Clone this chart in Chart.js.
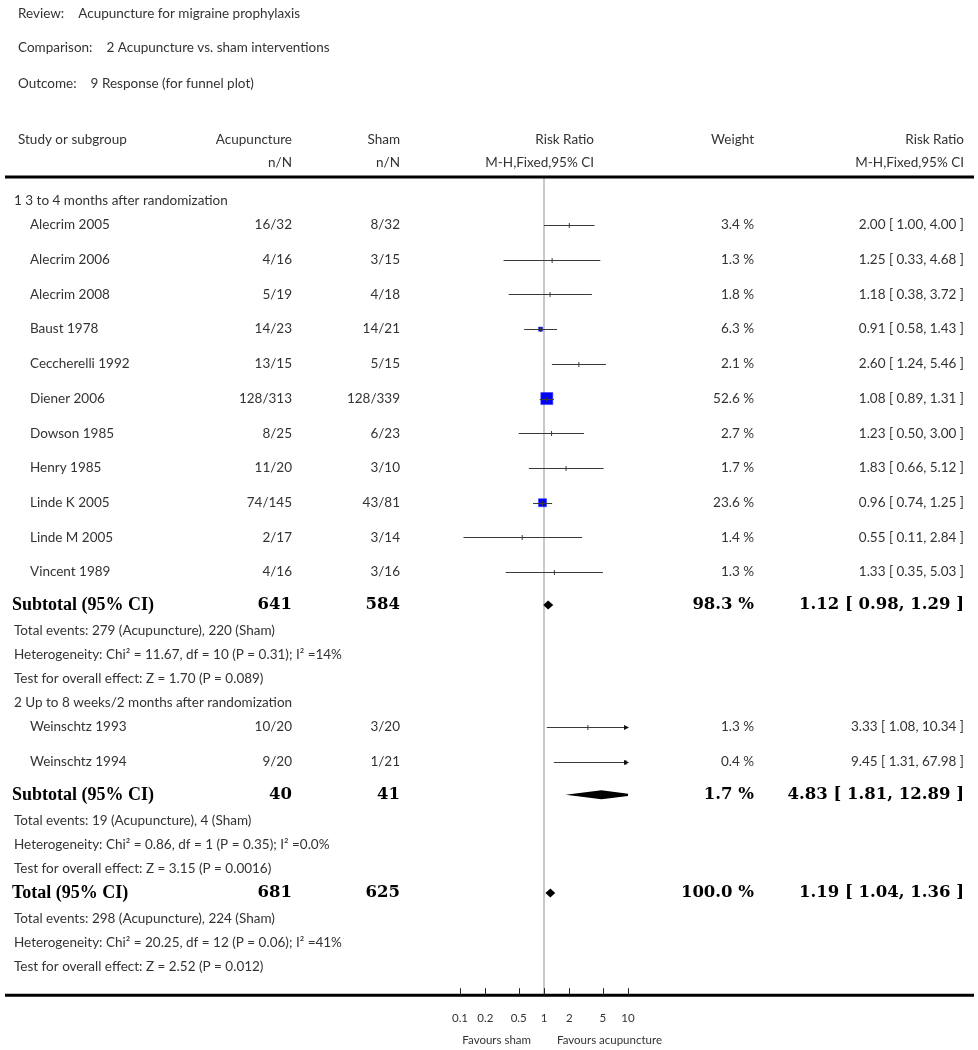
<!DOCTYPE html>
<html>
<head>
<meta charset="utf-8">
<title>Acupuncture vs sham - forest plot</title>
<script src="https://cdn.jsdelivr.net/npm/chart.js@4.4.0/dist/chart.umd.min.js"></script>
<style>
  html, body { margin: 0; padding: 0; background: #fff; }
  canvas { display: block; }
</style>
</head>
<body>
<canvas id="forest" width="978" height="1050"></canvas>
<script>
// Forest plot: Acupuncture vs. sham interventions, outcome 9 (Response)

// ---- data ----
const studies = ['Alecrim 2005', 'Alecrim 2006', 'Alecrim 2008', 'Baust 1978', 'Ceccherelli 1992',
  'Diener 2006', 'Dowson 1985', 'Henry 1985', 'Linde K 2005', 'Linde M 2005', 'Vincent 1989',
  'Weinschtz 1993', 'Weinschtz 1994'];
const studyGroup = [0, 0, 0, 0, 0, 0, 0, 0, 0, 0, 0, 1, 1];
const acuEvents = ['16/32', '4/16', '5/19', '14/23', '13/15', '128/313', '8/25', '11/20', '74/145', '2/17', '4/16', '10/20', '9/20'];
const shamEvents = ['8/32', '3/15', '4/18', '14/21', '5/15', '128/339', '6/23', '3/10', '43/81', '3/14', '3/16', '3/20', '1/21'];
const weights = [3.4, 1.3, 1.8, 6.3, 2.1, 52.6, 2.7, 1.7, 23.6, 1.4, 1.3, 1.3, 0.4];
const riskRatio = [2.00, 1.25, 1.18, 0.91, 2.60, 1.08, 1.23, 1.83, 0.96, 0.55, 1.33, 3.33, 9.45];
const ciLow = [1.00, 0.33, 0.38, 0.58, 1.24, 0.89, 0.50, 0.66, 0.74, 0.11, 0.35, 1.08, 1.31];
const ciHigh = [4.00, 4.68, 3.72, 1.43, 5.46, 1.31, 3.00, 5.12, 1.25, 2.84, 5.03, 10.34, 67.98];

const groupTitles = ['1 3 to 4 months after randomization', '2 Up to 8 weeks/2 months after randomization'];

// subtotal 1, subtotal 2, overall total
const summaryLabels = ['Subtotal (95% CI)', 'Subtotal (95% CI)', 'Total (95% CI)'];
const summaryAcuN = [641, 40, 681];
const summaryShamN = [584, 41, 625];
const summaryWeight = [98.3, 1.7, 100.0];
const summaryRR = [1.12, 4.83, 1.19];
const summaryLow = [0.98, 1.81, 1.04];
const summaryHigh = [1.29, 12.89, 1.36];
const summaryEvents = ['Total events: 279 (Acupuncture), 220 (Sham)',
  'Total events: 19 (Acupuncture), 4 (Sham)',
  'Total events: 298 (Acupuncture), 224 (Sham)'];
const summaryHet = ['Heterogeneity: Chi\u00b2 = 11.67, df = 10 (P = 0.31); I\u00b2 =14%',
  'Heterogeneity: Chi\u00b2 = 0.86, df = 1 (P = 0.35); I\u00b2 =0.0%',
  'Heterogeneity: Chi\u00b2 = 20.25, df = 12 (P = 0.06); I\u00b2 =41%'];
const summaryTest = ['Test for overall effect: Z = 1.70 (P = 0.089)',
  'Test for overall effect: Z = 3.15 (P = 0.0016)',
  'Test for overall effect: Z = 2.52 (P = 0.012)'];

const axisTicks = [0.1, 0.2, 0.5, 1, 2, 5, 10];
const axisTickLabels = ['0.1', '0.2', '0.5', '1', '2', '5', '10'];

// ---- row layout (vertical order of the table) ----
const SANS = 'Lato, "Open Sans", sans-serif';
const SERIF = '"Liberation Serif", "DejaVu Serif", serif';
const NUM_SERIF = '"DejaVu Serif", "Liberation Serif", serif';
const GAPS = {
  'none-group': 24, 'group-study': 24, 'study-study': 34.7, 'study-summary': 33,
  'summary-text': 26, 'text-text': 24, 'text-group': 24, 'text-summary': 24
};
const rows = [];
let cursor = 0, prevKind = 'none';
function addRow(kind, ref, text) {
  cursor += GAPS[prevKind + '-' + kind] || 24;
  rows.push({kind: kind, ref: ref, text: text, y: cursor});
  prevKind = kind;
}
function addSummary(k) {
  addRow('summary', k);
  addRow('text', k, summaryEvents[k]);
  addRow('text', k, summaryHet[k]);
  addRow('text', k, summaryTest[k]);
}
groupTitles.forEach(function(title, g) {
  addRow('group', g, title);
  studies.forEach(function(s, i) { if (studyGroup[i] === g) addRow('study', i); });
  addSummary(g);
});
addSummary(2);

const studyY = studies.map(function(s, i) {
  return rows.find(function(r) { return r.kind === 'study' && r.ref === i; }).y;
});
const Y_MAX = 818;

// ---- drawing helpers ----
function txt(ctx, s, x, y, align, font, color) {
  ctx.font = font;
  ctx.fillStyle = color || '#333';
  ctx.textAlign = align;
  ctx.textBaseline = 'middle';
  ctx.fillText(s, x, y);
}
function rrText(v, lo, hi) {
  return v.toFixed(2) + ' [ ' + lo.toFixed(2) + ', ' + hi.toFixed(2) + ' ]';
}

const COL = {name: 30, left: 14, acu: 292, sham: 400, rrHead: 594, weight: 754, rr: 964};

const forestPlugin = {
  id: 'forest',
  beforeDatasetsDraw(chart) {
    const {ctx, chartArea, scales} = chart;
    const x1 = scales.x.getPixelForValue(1);
    ctx.save();
    ctx.strokeStyle = '#c8c8c8';
    ctx.lineWidth = 2;
    ctx.beginPath();
    ctx.moveTo(x1, chartArea.top);
    ctx.lineTo(x1, chartArea.bottom);
    ctx.stroke();
    ctx.restore();
  },
  afterDatasetsDraw(chart) {
    const {ctx, chartArea, scales} = chart;
    const xs = scales.x, ys = scales.y;
    const xmin = xs.min, xmax = xs.max;
    ctx.save();
    // confidence intervals
    studies.forEach(function(s, i) {
      const py = Math.round(ys.getPixelForValue(studyY[i])) + 0.5;
      const a = xs.getPixelForValue(Math.max(ciLow[i], xmin));
      const b = xs.getPixelForValue(Math.min(ciHigh[i], xmax));
      ctx.strokeStyle = '#3a3a3a';
      ctx.lineWidth = 1;
      ctx.beginPath();
      ctx.moveTo(a, py);
      ctx.lineTo(b, py);
      ctx.stroke();
      // point estimate tick
      const pe = xs.getPixelForValue(riskRatio[i]);
      ctx.beginPath();
      ctx.moveTo(pe, py - 2.5);
      ctx.lineTo(pe, py + 2.5);
      ctx.stroke();
      if (ciHigh[i] > xmax) {
        ctx.fillStyle = '#111';
        ctx.beginPath();
        ctx.moveTo(b + 1, py);
        ctx.lineTo(b - 4, py - 2.5);
        ctx.lineTo(b - 4, py + 2.5);
        ctx.closePath();
        ctx.fill();
      }
    });
    // summary diamonds
    ctx.beginPath();
    ctx.rect(chartArea.left, chartArea.top, chartArea.right - chartArea.left, chartArea.bottom - chartArea.top);
    ctx.clip();
    rows.filter(function(r) { return r.kind === 'summary'; }).forEach(function(r) {
      const k = r.ref;
      const py = ys.getPixelForValue(r.y);
      const a = xs.getPixelForValue(summaryLow[k]);
      const m = xs.getPixelForValue(summaryRR[k]);
      const b = xs.getPixelForValue(summaryHigh[k]);
      ctx.fillStyle = '#000';
      ctx.beginPath();
      ctx.moveTo(a, py);
      ctx.lineTo(m, py - 4.5);
      ctx.lineTo(b, py);
      ctx.lineTo(m, py + 4.5);
      ctx.closePath();
      ctx.fill();
    });
    ctx.restore();
  },
  afterDraw(chart) {
    const {ctx, chartArea, scales} = chart;
    const ys = scales.y, xs = scales.x;
    const top = chartArea.top, bottom = chartArea.bottom;
    ctx.save();

    // title block
    const small = '13.5px ' + SANS;
    [['Review:', 'Acupuncture for migraine prophylaxis', 14],
     ['Comparison:', '2 Acupuncture vs. sham interventions', 48],
     ['Outcome:', '9 Response (for funnel plot)', 84]].forEach(function(t) {
      txt(ctx, t[0], 18, t[2], 'left', small);
      const w = ctx.measureText(t[0]).width;
      txt(ctx, t[1], 18 + w + 14, t[2], 'left', small);
    });

    // column headers
    const h1 = top - 37, h2 = top - 14;
    txt(ctx, 'Study or subgroup', 18, h1, 'left', small);
    txt(ctx, 'Acupuncture', COL.acu, h1, 'right', small);
    txt(ctx, 'Sham', COL.sham, h1, 'right', small);
    txt(ctx, 'Risk Ratio', COL.rrHead, h1, 'right', small);
    txt(ctx, 'Weight', COL.weight, h1, 'right', small);
    txt(ctx, 'Risk Ratio', COL.rr, h1, 'right', small);
    txt(ctx, 'n/N', COL.acu, h2, 'right', small);
    txt(ctx, 'n/N', COL.sham, h2, 'right', small);
    txt(ctx, 'M-H,Fixed,95% CI', COL.rrHead, h2, 'right', small);
    txt(ctx, 'M-H,Fixed,95% CI', COL.rr, h2, 'right', small);

    // thick rules
    ctx.strokeStyle = '#000';
    ctx.lineWidth = 3;
    ctx.beginPath();
    ctx.moveTo(5, top); ctx.lineTo(974, top);
    ctx.moveTo(5, bottom); ctx.lineTo(974, bottom);
    ctx.stroke();

    // axis tick marks
    ctx.lineWidth = 1;
    ctx.strokeStyle = '#222';
    axisTicks.forEach(function(v) {
      const px = Math.round(xs.getPixelForValue(v)) + 0.5;
      ctx.beginPath();
      ctx.moveTo(px, bottom - 7);
      ctx.lineTo(px, bottom);
      ctx.stroke();
    });
    const x1 = xs.getPixelForValue(1);
    txt(ctx, 'Favours sham', x1 - 13, bottom + 45, 'right', '11.5px ' + SANS);
    txt(ctx, 'Favours acupuncture', x1 + 13, bottom + 45, 'left', '11.5px ' + SANS);

    // table rows
    const bold = 'bold 18px ' + SERIF;
    const boldNum = 'bold 16.5px ' + NUM_SERIF;
    rows.forEach(function(r) {
      const py = ys.getPixelForValue(r.y);
      if (r.kind === 'group' || r.kind === 'text') {
        txt(ctx, r.text, COL.left, py, 'left', small);
      } else if (r.kind === 'study') {
        const i = r.ref;
        txt(ctx, studies[i], COL.name, py, 'left', small);
        txt(ctx, acuEvents[i], COL.acu, py, 'right', small);
        txt(ctx, shamEvents[i], COL.sham, py, 'right', small);
        txt(ctx, weights[i].toFixed(1) + ' %', COL.weight, py, 'right', small);
        txt(ctx, rrText(riskRatio[i], ciLow[i], ciHigh[i]), COL.rr, py, 'right', small);
      } else if (r.kind === 'summary') {
        const k = r.ref;
        txt(ctx, summaryLabels[k], COL.left - 2, py, 'left', bold, '#000');
        txt(ctx, String(summaryAcuN[k]), COL.acu, py, 'right', boldNum, '#000');
        txt(ctx, String(summaryShamN[k]), COL.sham, py, 'right', boldNum, '#000');
        txt(ctx, summaryWeight[k].toFixed(1) + ' %', COL.weight, py, 'right', boldNum, '#000');
        txt(ctx, rrText(summaryRR[k], summaryLow[k], summaryHigh[k]), COL.rr, py, 'right', boldNum, '#000');
      }
    });
    ctx.restore();
  }
};

const squareRadius = weights.map(function(w) {
  const r = 8.5 * Math.sqrt(w / 52.6);
  return r < 2.5 ? 0 : r;
});

new Chart(document.getElementById('forest'), {
  type: 'scatter',
  data: {
    datasets: [{
      label: 'Study estimate',
      data: studies.map(function(s, i) { return {x: riskRatio[i], y: studyY[i]}; }),
      pointStyle: 'rect',
      pointRadius: squareRadius,
      pointHoverRadius: squareRadius,
      backgroundColor: '#0000ff',
      borderColor: '#2a2aff',
      borderWidth: 0.5
    }]
  },
  options: {
    responsive: false,
    animation: false,
    events: [],
    layout: {padding: {top: 177, left: 460, right: 350, bottom: 9}},
    plugins: {legend: {display: false}, tooltip: {enabled: false}},
    scales: {
      x: {
        type: 'logarithmic',
        min: 0.1,
        max: 10,
        grid: {display: false, drawTicks: false},
        border: {display: false},
        afterBuildTicks: function(scale) {
          scale.ticks = axisTicks.map(function(v) { return {value: v}; });
        },
        ticks: {
          autoSkip: false,
          maxRotation: 0,
          padding: 16,
          color: '#333',
          font: {family: SANS, size: 11.5},
          callback: function(v) {
            const i = axisTicks.indexOf(v);
            return i >= 0 ? axisTickLabels[i] : '';
          }
        }
      },
      y: {
        type: 'linear',
        display: false,
        reverse: true,
        min: 0,
        max: Y_MAX
      }
    }
  },
  plugins: [forestPlugin]
});
</script>
</body>
</html>
